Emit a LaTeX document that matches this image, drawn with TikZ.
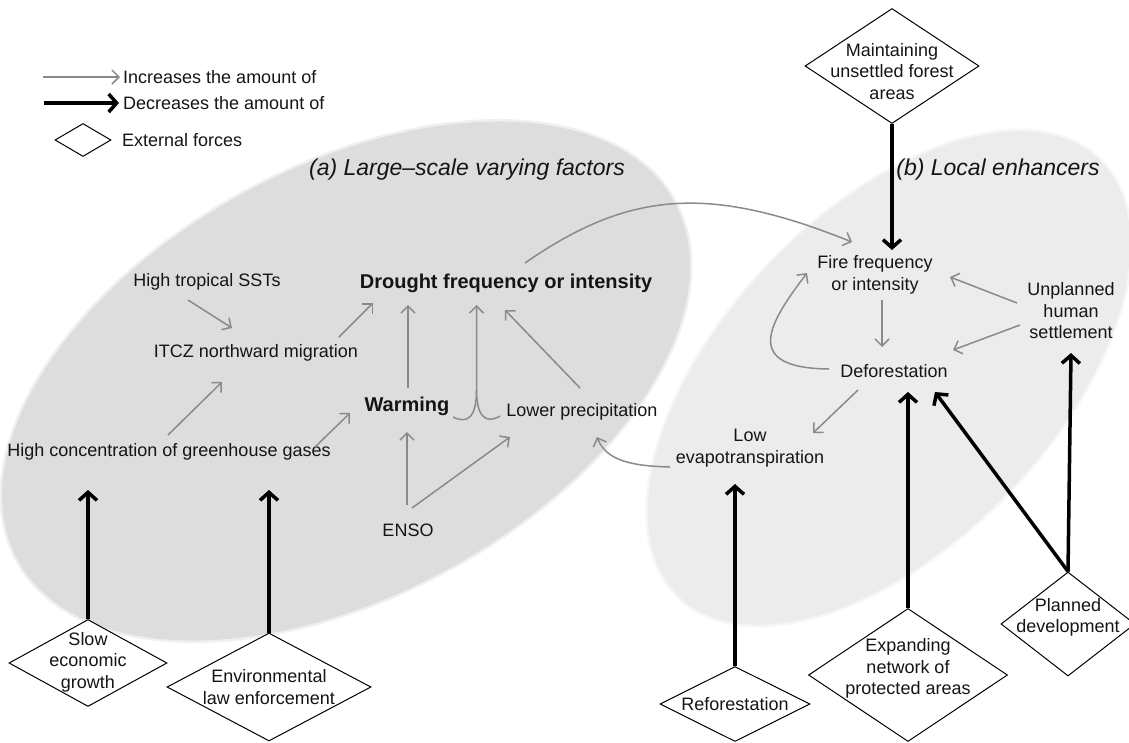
\documentclass[tikz,border=0pt]{standalone}
\usepackage{fontspec}
\setmainfont{Liberation Sans}
\usetikzlibrary{arrows.meta,shapes.geometric,calc}
\definecolor{ellA}{HTML}{DDDDDD}
\definecolor{ellB}{HTML}{ECECEC}
\definecolor{incgray}{HTML}{8A8A8A}
\definecolor{ink}{HTML}{151515}
\begin{document}
\begin{tikzpicture}[x=1pt,y=-1pt,
  txt/.style={inner sep=0pt, text=ink, font=\fontsize{18}{21.5}\selectfont, align=center},
  boldtxt/.style={inner sep=0pt, text=ink, font=\fontsize{20}{24}\selectfont\bfseries},
  ttl/.style={inner sep=0pt, text=ink, font=\fontsize{23}{27}\selectfont\itshape},
  ext/.style={diamond, draw=black, line width=1pt, inner sep=0pt, fill=white},
  incl/.style={draw=incgray, line width=1.5pt},
  inc/.style={incl, -{Straight Barb[length=7pt,width=14pt]}},
  dec/.style={draw=black, line width=3.5pt, -{Straight Barb[length=8pt,width=18pt]}},
]
\useasboundingbox (0,0) rectangle (1129,742);
% regions (with a soft rim)
\draw[ellA!45!white, line width=5pt, rotate around={28.6:(346,381)}] (346,381) ellipse [x radius=374, y radius=214];
\fill[ellA, rotate around={28.6:(346,381)}] (346,381) ellipse [x radius=374, y radius=214];
\draw[ellB!45!white, line width=5pt, rotate around={46.2:(889,378)}] (889,378) ellipse [x radius=303, y radius=165];
\fill[ellB, rotate around={46.2:(889,378)}] (889,378) ellipse [x radius=303, y radius=165];

% titles
\node[ttl] (ttlA) at (467,170) {(a) Large–scale varying factors};
\node[ttl] (ttlB) at (998,170) {(b) Local enhancers};

% legend
\node[txt, anchor=west] (leginc) at (123,77) {Increases the amount of};
\node[txt, anchor=west] (legdec) at (123,103) {Decreases the amount of};
\node[ext, minimum width=56pt, minimum height=33pt] (legext) at (83,140) {};
\node[txt, anchor=west] (legextT) at (122,140) {External forces};
\coordinate (legincS) at (43,77);
\coordinate (legdecS) at (44,103);
\draw[inc] (legincS) -- ($(leginc.west)+(-3,0)$);
\draw[dec] (legdecS) -- ($(legdec.west)+(-4,0)$);

% factor nodes
\node[txt] (ssts) at (207,282) {High tropical SSTs};
\node[txt] (itcz) at (256,353) {ITCZ northward migration};
\node[txt] (ghg) at (169,452) {High concentration of greenhouse gases};
\node[boldtxt] (drought) at (506,283) {Drought frequency or intensity};
\node[boldtxt] (warming) at (407,406) {Warming};
\node[txt] (lowerp) at (582,412) {Lower precipitation};
\node[txt] (enso) at (408,530) {ENSO};
\node[txt] (fire) at (875,275) {Fire frequency\\or intensity};
\node[txt] (unpl) at (1071,311) {Unplanned\\human\\settlement};
\node[txt] (defor) at (894,371) {Deforestation};
\node[txt] (lowevap) at (750,448) {Low\\evapotranspiration};

% external forces
\node[ext, minimum width=174pt, minimum height=115pt] (maint) at (892,66) {};
\node[txt] (maintT) at (892,71.5) {Maintaining\\unsettled forest\\areas};
\node[ext, minimum width=158pt, minimum height=87pt] (slow) at (88,663) {};
\node[txt] (slowT) at (88,662) {Slow\\economic\\growth};
\node[ext, minimum width=204pt, minimum height=108pt] (envlaw) at (269,687) {};
\node[txt] (envT) at (269,687) {Environmental\\law enforcement};
\node[ext, minimum width=150pt, minimum height=75pt] (refor) at (735,704) {};
\node[txt] (reforT) at (735,704) {Reforestation};
\node[ext, minimum width=199pt, minimum height=133pt] (expand) at (908,675) {};
\node[txt] (expandT) at (908,668.5) {Expanding\\network of\\protected areas};
\node[ext, minimum width=134pt, minimum height=104pt] (planned) at (1068,624) {};
\node[txt] (plannedT) at (1068,617.5) {Planned\\development};

% increasing links
\draw[inc] ($(ssts)+(-19,18)$) -- ($(itcz)+(-24,-25)$);
\draw[inc] ($(itcz)+(83,-16)$) -- ($(drought)+(-133,20)$);
\draw[inc] ($(ghg)+(-1,-17)$) -- ($(itcz)+(-34,29)$);
\draw[inc] ($(ghg)+(146,-5)$) -- ($(warming)+(-57,7)$);
\draw[inc] ($(warming)+(1,-18)$) -- ($(drought)+(-98,22)$);
\coordinate (cusp) at ($(drought)+(-29.5,107)$);
\draw[inc] ($(warming)+(46,11)$) .. controls ($(warming)+(62,19)$) and ($(cusp)+(0,25)$) .. (cusp) -- ($(drought)+(-29.5,22)$);
\draw[incl] ($(lowerp)+(-82,4)$) .. controls ($(lowerp)+(-97,13)$) and ($(cusp)+(0,25)$) .. (cusp);
\draw[inc] ($(lowerp)+(-2,-24)$) -- ($(drought)+(-1,27)$);
\draw[inc] ($(enso)+(-1,-25)$) -- ($(warming)+(0,26)$);
\draw[inc] ($(enso)+(4,-22)$) -- ($(lowerp)+(-72,25)$);
\draw[inc] ($(drought)+(19,-20)$) .. controls ($(drought)+(124,-93)$) and ($(fire)+(-165,-90)$) .. ($(fire)+(-23,-33)$);
\draw[inc] ($(lowevap)+(-80,19)$) .. controls ($(lowevap)+(-120,18)$) and ($(lowerp)+(24,48)$) .. ($(lowerp)+(15,25)$);
\draw[inc] ($(fire)+(7,25)$) -- ($(defor)+(-12,-24)$);
\draw[inc] ($(unpl)+(-54,-8)$) -- ($(fire)+(75,2)$);
\draw[inc] ($(unpl)+(-51,14)$) -- ($(defor)+(59,-21)$);
\draw[inc] ($(defor)+(-65,-2)$) .. controls ($(defor)+(-154,-3)$) and ($(fire)+(-105,47)$) .. ($(fire)+(-68,-2)$);
\draw[inc] ($(defor)+(-36,19)$) -- ($(lowevap)+(63,-15)$);

% decreasing links
\draw[dec] (maint.south) -- ($(fire)+(17,-25)$);
\draw[dec] (slow.north) -- ($(ghg)+(-81,38)$);
\draw[dec] (envlaw.north) -- ($(ghg)+(100,38)$);
\draw[dec] (refor.north) -- ($(lowevap)+(-15,36)$);
\draw[dec] (expand.north) -- ($(defor)+(14,21)$);
\draw[dec] (planned.north) -- ($(defor)+(41,21)$);
\draw[dec] (planned.north) -- ($(unpl)+(0,42)$);
\end{tikzpicture}
\end{document}
